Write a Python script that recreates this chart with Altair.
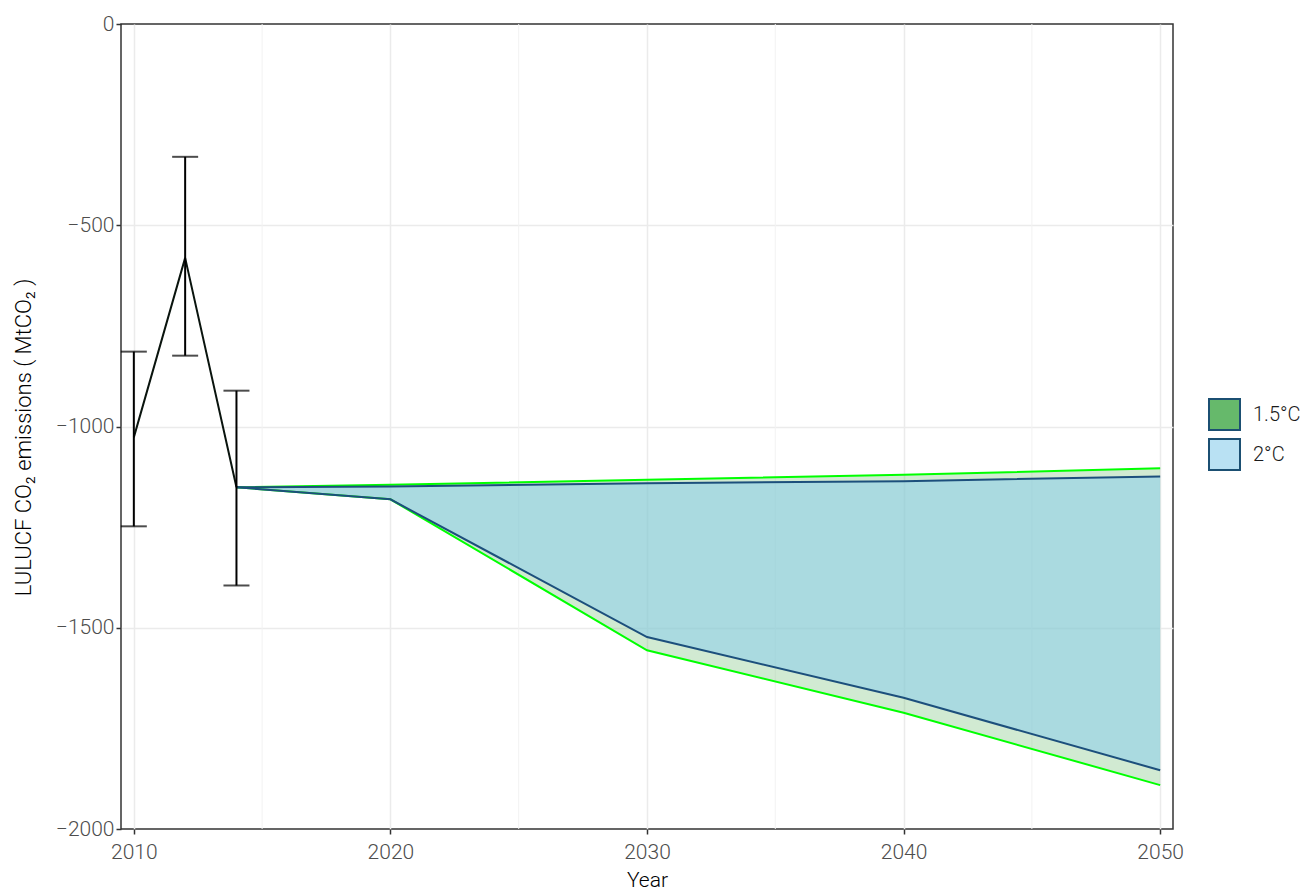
import altair as alt
import pandas as pd

# ---- data ----
hist_years = [2010, 2012, 2014]
hist_vals = [-1027, -581, -1151]
hist_low = [-1248, -824, -1395]
hist_high = [-814, -330, -911]

scen_years = [2014, 2020, 2030, 2040, 2050]
c15_upper = [-1151, -1145, -1132, -1120, -1104]
c15_lower = [-1151, -1181, -1556, -1711, -1891]
c2_upper = [-1151, -1149, -1141, -1136, -1124]
c2_lower = [-1151, -1181, -1523, -1674, -1854]

scenarios = ["1.5°C", "2°C"]
legend_colors = ["#66b96b", "#b9e1f3"]
x_ticks = [2010, 2020, 2030, 2040, 2050]
x_minor = [2015, 2025, 2035, 2045]
y_ticks = [0, -500, -1000, -1500, -2000]

FONT = "Roboto"

hist = pd.DataFrame({"year": hist_years, "val": hist_vals, "low": hist_low, "high": hist_high})
scen = pd.DataFrame({"year": scen_years, "u15": c15_upper, "l15": c15_lower,
                     "u2": c2_upper, "l2": c2_lower})
minor = pd.DataFrame({"year": x_minor})
leg = pd.DataFrame({"scenario": scenarios})

xs = alt.Scale(domain=[2009.5, 2050.5], nice=False, zero=False)
ys = alt.Scale(domain=[-2000, 0], nice=False, zero=False)

xaxis = alt.Axis(values=x_ticks, format="d", title="Year", grid=True,
                 gridColor="#ebebeb", gridWidth=1.5, domain=False,
                 tickColor="#333333", tickSize=5, tickWidth=1.5,
                 labelColor="#4d4d4d", labelFontSize=21, labelFont=FONT, labelFontWeight=300,
                 labelPadding=7, labelFlush=False,
                 titleFont=FONT, titleFontSize=21, titleFontWeight=300,
                 titleColor="#000000", titleY=51, titleBaseline="middle")
yaxis = alt.Axis(values=y_ticks, format="d", title="LULUCF CO₂ emissions ( MtCO₂ )", grid=True,
                 labelExpr="replace(datum.label, '-', '\u2212')",
                 gridColor="#ebebeb", gridWidth=1.5, domain=False,
                 gridOpacity={"condition": {"test": "datum.value === 0 || datum.value === -2000",
                                            "value": 0}, "value": 1},
                 tickColor="#333333", tickSize=5, tickWidth=1.5,
                 labelColor="#4d4d4d", labelFontSize=21, labelFont=FONT, labelFontWeight=300,
                 labelPadding=2, labelFlush=False,
                 titleFont=FONT, titleFontSize=22, titleFontWeight=300,
                 titleColor="#000000", titleAngle=270, titleX=-98, titleY=413,
                 titleAlign="center", titleBaseline="middle")


def X(f):
    return alt.X(f, type="quantitative", scale=xs, axis=xaxis)


def Y(f):
    return alt.Y(f, type="quantitative", scale=ys, axis=yaxis)


minor_grid = alt.Chart(minor).mark_rule(color="#f2f2f2", strokeWidth=1).encode(x=X("year"))

area15 = alt.Chart(scen).mark_area(color="#66b96b", opacity=0.3).encode(
    x=X("year"), y=Y("u15"), y2=alt.Y2("l15"))
area2 = alt.Chart(scen).mark_area(color="#90cfe9", opacity=0.6).encode(
    x=X("year"), y=Y("u2"), y2=alt.Y2("l2"))

lines = []
for f, col in [("u15", "#00ff00"), ("l15", "#00ff00"), ("u2", "#1c4f7c"), ("l2", "#1c4f7c")]:
    lines.append(alt.Chart(scen).mark_line(color=col, strokeWidth=2).encode(x=X("year"), y=Y(f)))

hist_line = alt.Chart(hist).mark_line(color="#0a140e", strokeWidth=2).encode(x=X("year"), y=Y("val"))
err_rule = alt.Chart(hist).mark_rule(color="#000000", strokeWidth=2).encode(
    x=X("year"), y=Y("low"), y2=alt.Y2("high"))
cap_low = alt.Chart(hist).mark_tick(color="#000000", orient="horizontal", size=26, thickness=2).encode(
    x=X("year"), y=Y("low"))
cap_high = alt.Chart(hist).mark_tick(color="#000000", orient="horizontal", size=26, thickness=2).encode(
    x=X("year"), y=Y("high"))

legend_layer = alt.Chart(leg).mark_square(opacity=0).encode(
    x=alt.value(0), y=alt.value(0),
    fill=alt.Fill("scenario:N", scale=alt.Scale(domain=scenarios, range=legend_colors),
                  legend=alt.Legend(title=None, orient="none", legendX=1087, legendY=374,
                                    symbolType="square", symbolSize=961,
                                    symbolStrokeWidth=2, symbolStrokeColor="#1b4f72",
                                    symbolOpacity=1, labelFont=FONT, labelFontSize=20,
                                    labelFontWeight=300,
                                    labelColor="#1a1a1a", rowPadding=1, labelOffset=12,
                                    padding=0)))

chart = alt.layer(minor_grid, area15, area2, *lines, hist_line, err_rule, cap_low, cap_high,
                  legend_layer).properties(
    width=1052, height=805,
    autosize=alt.AutoSizeParams(type="none"),
    padding={"left": 113, "top": 16, "right": 131, "bottom": 64},
    background="white",
).configure_view(stroke="#333333", strokeWidth=1.5)

chart.save("out.html", embed_options={"renderer": "svg", "actions": False})
